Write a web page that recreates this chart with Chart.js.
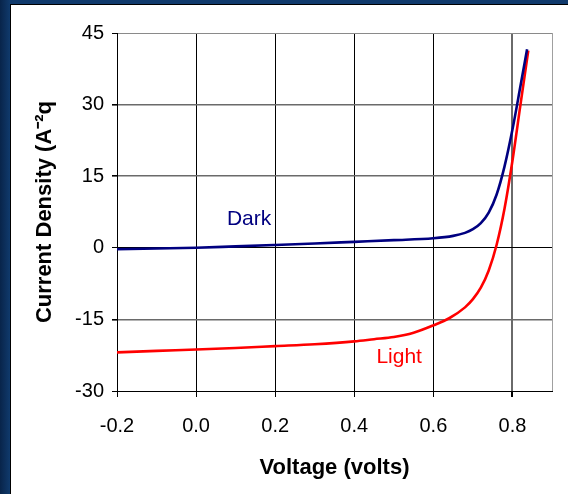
<!DOCTYPE html>
<html>
<head>
<meta charset="utf-8">
<script src="https://cdn.jsdelivr.net/npm/chart.js@4.4.1/dist/chart.umd.min.js"></script>
<style>
    html, body { margin: 0; padding: 0; }
    body {
        width: 568px; height: 494px; overflow: hidden;
        background: linear-gradient(90deg, #08244a 0px, #103a6c 10px);
    }
    .panel {
        position: absolute; left: 10px; top: 4px;
        width: 558px; height: 490px;
        border-left: 1px solid #000; border-top: 1px solid #000;
        background: #fff;
    }
    .panel canvas { display: block; }
</style>
</head>
<body>
<div class="panel"><canvas id="chart" width="558" height="490"></canvas></div>
<script>
// ---- data ----
const darkVoltage = [-0.2, -0.1, 0.0, 0.1, 0.2, 0.3, 0.4, 0.5, 0.6, 0.65, 0.68, 0.70, 0.72, 0.74, 0.76, 0.78, 0.80, 0.82, 0.837];
const darkCurrent = [-0.3, -0.15, 0.0, 0.3, 0.6, 0.9, 1.25, 1.6, 2.0, 2.5, 3.13, 3.89, 5.17, 7.37, 11.17, 17.07, 24.77, 33.77, 41.6];
const lightVoltage = [-0.2, -0.1, 0.0, 0.1, 0.2, 0.3, 0.4, 0.45, 0.5, 0.55, 0.6, 0.64, 0.68, 0.70, 0.72, 0.74, 0.76, 0.78, 0.80, 0.82, 0.84];
const lightCurrent = [-21.9, -21.6, -21.3, -21.0, -20.6, -20.2, -19.6, -19.15, -18.7, -17.8, -16.25, -14.76, -12.48, -10.76, -8.36, -4.76, 0.64, 8.24, 18.24, 29.84, 41.3];
const xTicks = [-0.2, 0.0, 0.2, 0.4, 0.6, 0.8];
const yTicks = [-30, -15, 0, 15, 30, 45];
const xMax = 0.9;
const seriesNames = ['Dark', 'Light'];

const toPoints = (xs, ys) => xs.map((x, i) => ({ x: x, y: ys[i] }));
const FONT = "'Liberation Sans', Arial, sans-serif";

//----- curve names written beside the lines -----//
const curveLabels = {
    id: 'curveLabels',
    afterDatasetsDraw(chart) {
        const { ctx, scales: { x, y } } = chart;
        const spots = [{ x: 0.078, y: 4.8, color: '#000080' }, { x: 0.456, y: -24.1, color: '#ff0000' }];
        ctx.save();
        ctx.font = '21px ' + FONT;
        ctx.textAlign = 'left';
        ctx.textBaseline = 'alphabetic';
        seriesNames.forEach((name, i) => {
            ctx.fillStyle = spots[i].color;
            ctx.fillText(name, x.getPixelForValue(spots[i].x), y.getPixelForValue(spots[i].y));
        });
        ctx.restore();
    }
};

new Chart(document.getElementById('chart'), {
    type: 'line',
    data: {
        datasets: [{
            label: seriesNames[0],
            data: toPoints(darkVoltage, darkCurrent),
            borderColor: '#000080',
            borderWidth: 2.6,
            pointRadius: 0,
            cubicInterpolationMode: 'monotone'
        }, {
            label: seriesNames[1],
            data: toPoints(lightVoltage, lightCurrent),
            borderColor: '#ff0000',
            borderWidth: 2.6,
            pointRadius: 0,
            cubicInterpolationMode: 'monotone'
        }]
    },
    options: {
        responsive: false,
        animation: false,
        layout: { padding: { left: 0, top: 28, right: 17, bottom: 0 } },
        plugins: { legend: { display: false }, tooltip: { enabled: false } },
        scales: {
            x: {
                type: 'linear',
                min: xTicks[0],
                max: xMax,
                afterBuildTicks: s => { s.ticks = xTicks.concat([xMax]).map(v => ({ value: v })) },
                afterFit: s => { s.height = 104 },
                border: { color: '#000', width: 1 },
                grid: {
                    color: c => c.tick.value === xMax ? '#a0a0a0' : (Math.abs(c.tick.value - 0.8) < 1e-6 ? '#6a6a6a' : '#000'),
                    lineWidth: c => Math.abs(c.tick.value - 0.8) < 1e-6 ? 2 : 1,
                    tickColor: c => c.tick.value === xMax ? 'rgba(0,0,0,0)' : '#000',
                    tickLength: 6
                },
                ticks: {
                    color: '#000',
                    font: { family: FONT, size: 20 },
                    padding: 17,
                    maxRotation: 0,
                    callback: v => v === xMax ? '' : (Math.abs(v) < 1e-9 ? '0.0' : v.toFixed(1))
                },
                title: {
                    display: true,
                    text: 'Voltage (volts)',
                    color: '#000',
                    font: { family: FONT, size: 22, weight: 'bold' },
                    padding: { top: 0, bottom: 14 }
                }
            },
            y: {
                type: 'linear',
                min: yTicks[0],
                max: yTicks[yTicks.length - 1],
                afterBuildTicks: s => { s.ticks = yTicks.map(v => ({ value: v })) },
                afterFit: s => { s.width = 106 },
                border: { color: '#000', width: 1 },
                grid: {
                    color: c => c.tick.value === 0 || c.tick.value === yTicks[0] ? '#000' : (c.tick.value === 45 ? '#8a8a8a' : '#6a6a6a'),
                    lineWidth: c => c.tick.value === 0 || c.tick.value === yTicks[0] || c.tick.value === 45 ? 1 : 1.6,
                    tickColor: '#000',
                    tickLength: 5
                },
                ticks: {
                    color: '#000',
                    font: { family: FONT, size: 20 },
                    padding: 8
                },
                title: {
                    display: true,
                    text: 'Current Density (A\u207B\u00B2q',
                    color: '#000',
                    font: { family: FONT, size: 22, weight: 'bold' },
                    padding: { top: 21, bottom: 0 }
                }
            }
        }
    },
    plugins: [curveLabels]
});
</script>
</body>
</html>
